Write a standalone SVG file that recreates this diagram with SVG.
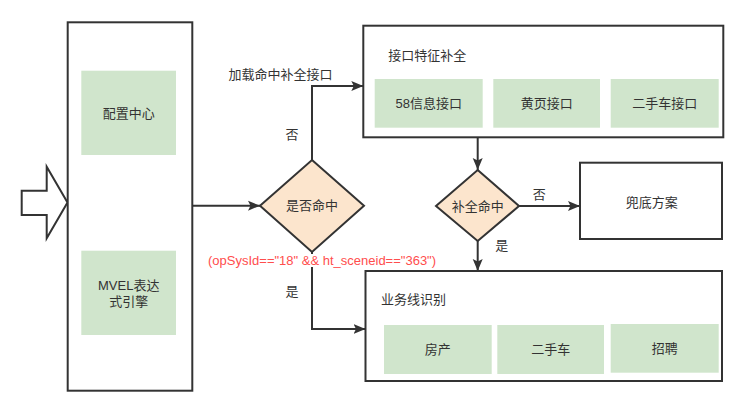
<svg xmlns="http://www.w3.org/2000/svg" width="750" height="403" viewBox="0 0 750 403">
<style>
text{font-family:"Liberation Sans","Noto Sans CJK SC",sans-serif;font-size:13px;fill:#333}
.c{text-anchor:middle}
.box{fill:#fff;stroke:#333;stroke-width:2}
.g{fill:#d0e5cc}
.d{fill:#fce5cd;stroke:#333;stroke-width:2}
.e{fill:none;stroke:#333;stroke-width:2}
.red{fill:#ff4d4d}
</style>
<defs>
<marker id="ar" markerUnits="userSpaceOnUse" markerWidth="14" markerHeight="12" refX="12" refY="6" orient="auto">
<path d="M0,1 L12,6 L0,11 L2.5,6 Z" fill="#333"/>
</marker>
</defs>
<rect width="750" height="403" fill="#fff"/>
<g id="input-arrow">
<polygon points="21.7,190.7 46.7,190.7 46.7,166.7 67.5,202.5 46.7,238.3 46.7,215 21.7,215" fill="#fff" stroke="#333" stroke-width="2"/>
</g>
<g id="engine">
<rect class="box" x="67.7" y="22.3" width="124.6" height="368.4"/>
</g>
<g id="config-center">
<rect class="g" x="81.3" y="70.7" width="94.7" height="84.3"/>
<text class="c" x="128.7" y="117.5">配置中心</text>
</g>
<g id="mvel">
<rect class="g" x="81.3" y="250.7" width="94.7" height="84.3"/>
<text class="c" x="128.7" y="289.5">MVEL表达</text>
<text class="c" x="128.7" y="305.5">式引擎</text>
</g>
<g id="connectors">
<path class="e" d="M192.3,205.7 H260" marker-end="url(#ar)"/>
<path class="e" d="M312,160 V86 H363.3" marker-end="url(#ar)"/>
<path class="e" d="M312,252 V329 H365.5" marker-end="url(#ar)"/>
<path class="e" d="M477.7,137.3 V170" marker-end="url(#ar)"/>
<path class="e" d="M519,206 H580" marker-end="url(#ar)"/>
<path class="e" d="M477.7,241 V271" marker-end="url(#ar)"/>
<text x="228.5" y="78.5">加载命中补全接口</text>
<text class="c" x="292" y="138.5">否</text>
<text class="c" x="292" y="296">是</text>
<text class="c" x="539.3" y="198.5">否</text>
<text class="c" x="501.7" y="250">是</text>
<rect x="290" y="254" width="30" height="13" fill="#fff"/>
<text class="red" x="208" y="265">(opSysId=="18" &amp;&amp; ht_sceneid=="363")</text>
</g>
<g id="decision-hit">
<polygon class="d" points="312,160 364,205.7 312,252 260,205.7"/>
<text class="c" x="312" y="210.2">是否命中</text>
</g>
<g id="feature-completion">
<rect class="box" x="363.3" y="25.7" width="360" height="111.6"/>
<text x="388.3" y="59.5">接口特征补全</text>
</g>
<g id="api-58">
<rect class="g" x="374.7" y="79" width="108" height="48.7"/>
<text class="c" x="428.7" y="107.8">58信息接口</text>
</g>
<g id="api-yellowpage">
<rect class="g" x="493.3" y="79" width="106.7" height="48.7"/>
<text class="c" x="546.7" y="107.8">黄页接口</text>
</g>
<g id="api-usedcar">
<rect class="g" x="610.7" y="79" width="108" height="48.7"/>
<text class="c" x="664.7" y="107.8">二手车接口</text>
</g>
<g id="decision-complete">
<polygon class="d" points="477.7,170 519,206 477.7,241 436,206"/>
<text class="c" x="477.7" y="210.5">补全命中</text>
</g>
<g id="fallback">
<rect class="box" x="580" y="162.7" width="142" height="76.3"/>
<text class="c" x="651.7" y="206.8">兜底方案</text>
</g>
<g id="business-line">
<rect class="box" x="365.5" y="271" width="356.5" height="110"/>
<text x="381" y="303.5">业务线识别</text>
</g>
<g id="house">
<rect class="g" x="384" y="325" width="107.7" height="49"/>
<text class="c" x="437.8" y="354">房产</text>
</g>
<g id="usedcar">
<rect class="g" x="497.3" y="325" width="106.7" height="49"/>
<text class="c" x="550.7" y="354">二手车</text>
</g>
<g id="recruit">
<rect class="g" x="610.7" y="324" width="108" height="48.7"/>
<text class="c" x="664.7" y="352.8">招聘</text>
</g>
</svg>
